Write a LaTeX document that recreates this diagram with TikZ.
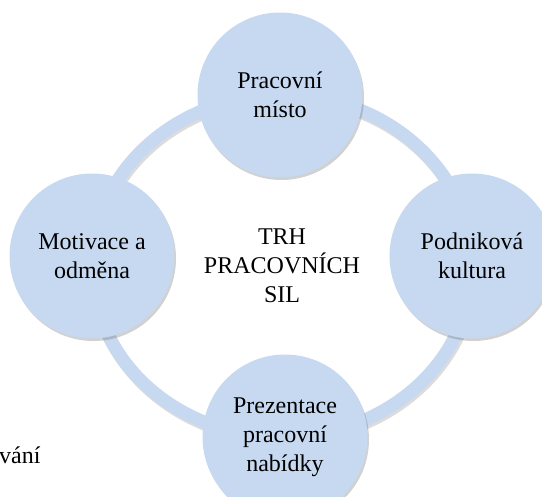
\documentclass[tikz,border=0pt]{standalone}
\usepackage{fontspec}
\setmainfont{Liberation Serif}
\usetikzlibrary{shapes,positioning,shadows,calc}
\definecolor{cyclefill}{RGB}{198,217,240}

\begin{document}
\begin{tikzpicture}[
    x=1pt, y=-1pt,
    topic/.style={circle, fill=cyclefill, minimum size=165pt, inner sep=0pt, align=center,
        font=\fontsize{24}{29}\selectfont,
        drop shadow={shadow xshift=1.5pt, shadow yshift=-2.5pt, opacity=0.3, fill=black!60}},
    ring/.style={draw=cyclefill, line width=13pt},
    centretext/.style={align=center, font=\fontsize{24}{29}\selectfont}
]
\useasboundingbox (0,0) rectangle (542,497);

\coordinate (hub) at (282,266);

% ring behind the topics
\draw[ring, draw=black!45, opacity=0.3] ([shift={(1.5,2.5)}]hub) ellipse [x radius=190, y radius=171];
\draw[ring] (hub) ellipse [x radius=190, y radius=171];

\node[centretext] (market) at (hub) {TRH\\PRACOVNÍCH\\SIL};

\node[topic] (place) at (280,95) {Pracovní\\místo};
\node[topic] (culture) at (472,256) {Podniková\\kultura};
\node[topic] (offer) at (285,437) {Prezentace\\pracovní\\nabídky};
\node[topic] (reward) at (92,256) {Motivace a\\odměna};

\node[centretext, anchor=base east] (cut) at (44,464) {vání};

\end{tikzpicture}
\end{document}
